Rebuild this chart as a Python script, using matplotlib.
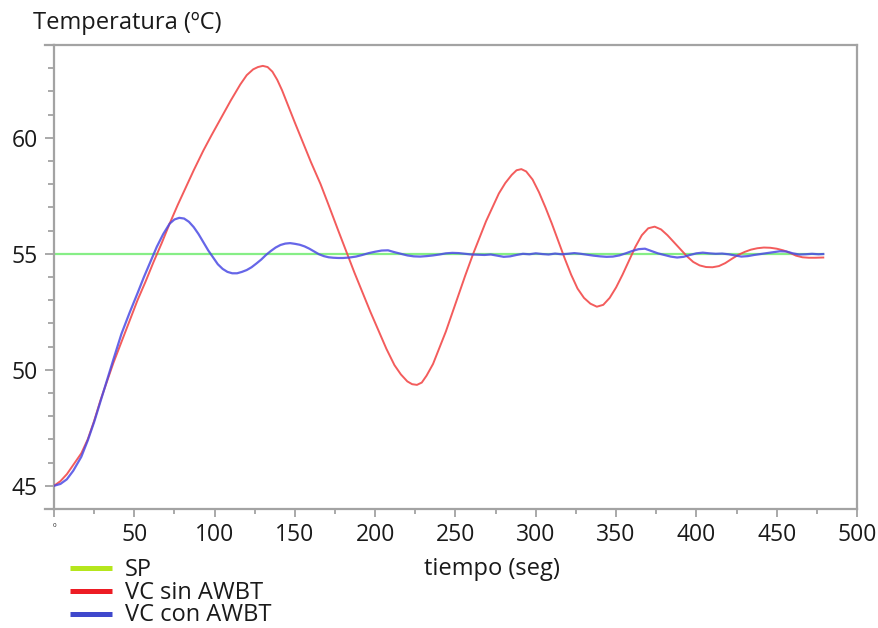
import matplotlib
matplotlib.use("Agg")
import matplotlib.pyplot as plt
from matplotlib.lines import Line2D
from matplotlib.ticker import MultipleLocator

plt.rcParams["font.family"] = ["Open Sans", "DejaVu Sans"]

# ---- data ------------------------------------------------------------
sp_t = [0, 479]
sp_v = [55, 55]

red_t = [0, 4, 8, 12, 17, 21, 25, 29, 33, 37, 42, 47, 52, 57, 62, 67, 72, 77,
         82, 87, 93, 98, 104, 110, 116, 120, 124, 127, 130, 133, 136, 139, 142,
         146, 150, 155, 160, 166, 171, 177, 182, 187, 192, 197, 202, 207, 212,
         216, 220, 223, 226, 229, 232, 236, 240, 244, 248, 252, 256, 261, 265,
         269, 273, 277, 281, 285, 288, 291, 294, 298, 302, 306, 310, 314, 318,
         322, 326, 330, 334, 338, 342, 346, 350, 354, 358, 362, 366, 370, 374,
         378, 382, 386, 390, 394, 398, 402, 406, 410, 414, 418, 422, 426, 430,
         434, 438, 442, 446, 450, 454, 458, 462, 466, 470, 474, 479]
red_v = [45.0, 45.2, 45.5, 45.9, 46.4, 47.0, 47.8, 48.7, 49.5, 50.3, 51.2,
         52.1, 53.0, 53.8, 54.65, 55.45, 56.3, 57.1, 57.85, 58.6, 59.45, 60.1,
         60.85, 61.6, 62.3, 62.7, 62.95, 63.05, 63.1, 63.05, 62.85, 62.5, 62.05,
         61.35, 60.65, 59.8, 58.95, 58.0, 57.1, 56.0, 55.1, 54.2, 53.35, 52.5,
         51.7, 50.9, 50.2, 49.8, 49.5, 49.38, 49.35, 49.45, 49.75, 50.25, 50.95,
         51.65, 52.45, 53.25, 54.05, 55.0, 55.7, 56.4, 57.0, 57.6, 58.05, 58.4,
         58.6, 58.65, 58.55, 58.2, 57.65, 57.0, 56.3, 55.55, 54.8, 54.1, 53.5,
         53.1, 52.85, 52.72, 52.8, 53.1, 53.55, 54.1, 54.7, 55.3, 55.8, 56.1,
         56.17, 56.05, 55.8, 55.5, 55.2, 54.9, 54.65, 54.5, 54.43, 54.42, 54.47,
         54.6, 54.78, 54.95, 55.08, 55.18, 55.24, 55.27, 55.26, 55.22, 55.15,
         55.05, 54.92, 54.85, 54.83, 54.83, 54.84]

blue_t = [0, 4, 8, 12, 17, 21, 25, 29, 33, 37, 42, 47, 52, 56, 60, 64, 68, 72,
          75, 78, 81, 84, 87, 90, 93, 96, 99, 102, 105, 108, 111, 114, 117, 120,
          123, 126, 129, 132, 135, 138, 141, 144, 147, 150, 153, 156, 159, 162,
          165, 168, 171, 174, 177, 180, 184, 188, 192, 196, 200, 204, 208, 212,
          216, 220, 224, 228, 232, 236, 240, 244, 248, 252, 256, 260, 264, 268,
          272, 276, 280, 284, 288, 292, 296, 300, 304, 308, 312, 316, 320, 324,
          328, 332, 336, 340, 344, 348, 352, 356, 360, 364, 368, 372, 376, 380,
          384, 388, 392, 396, 400, 404, 408, 412, 416, 420, 424, 428, 432, 436,
          440, 444, 448, 452, 456, 460, 464, 468, 472, 476, 479]
blue_v = [45.0, 45.08, 45.28, 45.65, 46.25, 46.95, 47.75, 48.65, 49.55, 50.45,
          51.55, 52.45, 53.3, 54.0, 54.65, 55.3, 55.85, 56.3, 56.48, 56.55,
          56.52, 56.38, 56.15, 55.85, 55.5, 55.15, 54.85, 54.55, 54.35, 54.22,
          54.16, 54.16, 54.22, 54.3, 54.42, 54.58, 54.75, 54.95, 55.12, 55.27,
          55.38, 55.44, 55.46, 55.43, 55.39, 55.32, 55.22, 55.1, 54.98, 54.9,
          54.85, 54.83, 54.82, 54.82, 54.84, 54.88, 54.95, 55.03, 55.09, 55.14,
          55.15, 55.07, 55.0, 54.93, 54.89, 54.88, 54.9, 54.93, 54.97, 55.02,
          55.04, 55.03, 55.0, 54.97, 54.96, 54.95, 54.97, 54.92, 54.87, 54.89,
          54.95, 55.0, 54.98, 55.02, 54.99, 54.97, 55.01, 54.98, 55.0, 55.03,
          55.0, 54.96, 54.92, 54.89, 54.87, 54.88, 54.93, 55.02, 55.12, 55.2,
          55.22, 55.12, 55.02, 54.95, 54.88, 54.84, 54.87, 54.95, 55.02, 55.05,
          55.02, 55.0, 55.01, 54.98, 54.93, 54.88, 54.9, 54.95, 54.99, 55.03,
          55.07, 55.11, 55.1, 55.02, 54.97, 54.98, 55.0, 54.98, 54.99]

x_ticks = [0, 50, 100, 150, 200, 250, 300, 350, 400, 450, 500]
x_labels = ["0", "50", "100", "150", "200", "250", "300", "350", "400", "450", "500"]
y_ticks = [45, 50, 55, 60]
y_labels = ["45", "50", "55", "60"]

series_names = ["SP", "VC sin AWBT", "VC con AWBT"]
legend_colors = ["#b5e61d", "#ed1c24", "#3f48cc"]

# ---- figure ----------------------------------------------------------
W, H = 879, 628
fig = plt.figure(figsize=(W / 100, H / 100), dpi=100)
ax = fig.add_axes([54 / W, 1 - 509 / H, (857 - 54) / W, (509 - 45) / H])

ax.plot(sp_t, sp_v, color="#86ee86", lw=1.6, zorder=2)
ax.plot(red_t, red_v, color="#f24a4a", lw=1.4, alpha=0.9, zorder=3)
ax.plot(blue_t, blue_v, color="#4b4be4", lw=1.6, alpha=0.85, zorder=4)

ax.set_xlim(0, 500)
ax.set_ylim(44, 64)

grey = "#a3a3a3"
for s in ax.spines.values():
    s.set_color(grey)
    s.set_linewidth(1.6)

# short spine stubs reaching left of the y axis
for yy in (0, 1):
    ax.add_line(Line2D([-9 / 803, 0], [yy, yy], transform=ax.transAxes,
                       color=grey, lw=1.6, clip_on=False))

ax.set_xticks(x_ticks)
ax.set_xticklabels(x_labels)
ax.xaxis.set_minor_locator(MultipleLocator(25))
ax.set_yticks(y_ticks)
ax.set_yticklabels(y_labels)
ax.yaxis.set_minor_locator(MultipleLocator(1))

ax.tick_params(axis="both", which="both", direction="out", color=grey,
               width=1.3, labelcolor="#1a1a1a", labelsize=16.5)
ax.tick_params(axis="x", which="major", length=6, pad=4)
ax.tick_params(axis="x", which="minor", length=3.5)
ax.tick_params(axis="y", which="major", length=6.5, pad=5)
ax.tick_params(axis="y", which="minor", length=4)
ax.get_xticklabels()[0].set_fontsize(4.5)

# axis titles
fig.text(33 / W, 1 - 29 / H, "Temperatura (ºC)", fontsize=17,
         color="#1a1a1a", va="baseline", ha="left")
fig.text(492 / W, 1 - 575 / H, "tiempo (seg)", fontsize=17,
         color="#1a1a1a", va="baseline", ha="center")

# legend below the plot
rows_y = [568, 591, 614]
text_base = [576, 599, 621]
for name, col, ry, tb in zip(series_names, legend_colors, rows_y, text_base):
    fig.add_artist(Line2D([70 / W, 112 / W], [1 - ry / H, 1 - ry / H],
                          color=col, lw=3.6, solid_capstyle="butt"))
    fig.text(125 / W, 1 - tb / H, name, fontsize=17, color="#1a1a1a",
             va="baseline", ha="left")

fig.savefig("out.png", dpi=100)
